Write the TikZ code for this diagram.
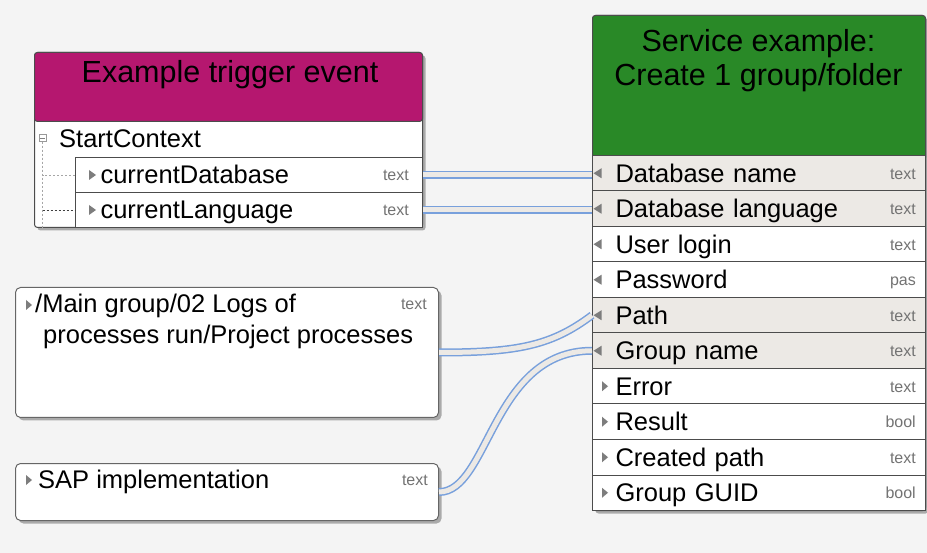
\documentclass[tikz,border=0pt]{standalone}
\usepackage{fontspec}
\setmainfont{Liberation Sans}
\usetikzlibrary{positioning, shadows}

\definecolor{bgcol}{RGB}{244,244,244}
\definecolor{trigmag}{RGB}{181,23,111}
\definecolor{svcgreen}{RGB}{41,137,39}
\definecolor{rowhl}{RGB}{236,233,229}
\definecolor{linkblue}{RGB}{120,160,220}
\definecolor{linkfill}{RGB}{236,233,229}
\definecolor{markgray}{RGB}{125,125,125}
\definecolor{typegray}{RGB}{115,115,115}

\begin{document}
\begin{tikzpicture}[x=1pt, y=-1pt,
        boxframe/.style={rectangle, draw=black!70, line width=1pt, fill=white, rounded corners=3pt, anchor=north west, inner sep=0pt,
            drop shadow={shadow xshift=3pt, shadow yshift=-3pt, fill=black, opacity=0.3}},
        headbox/.style={rectangle, draw=black!70, line width=1pt, rounded corners=3pt, anchor=north west, inner sep=0pt},
        headtitle/.style={font=\fontsize{30.5}{34}\selectfont, align=center, inner sep=0pt},
        fieldrow/.style={rectangle, draw=black!70, line width=1pt, fill=white, anchor=north west, inner ysep=0pt,
            align=left, text height=18pt, text depth=0pt, font=\fontsize{25.5}{30}\selectfont},
        srow/.style={fieldrow, inner xsep=23pt, text width=287pt, minimum width=333pt, minimum height=35.5pt},
        trow/.style={fieldrow, inner xsep=25pt, text width=297pt, minimum width=347pt, minimum height=35pt},
        item/.style={font=\fontsize{25.5}{31}\selectfont, inner sep=0pt},
        vtype/.style={font=\fontsize{16}{18}\selectfont, text=typegray, inner sep=0pt, text height=12pt, text depth=0pt},
        valbox/.style={rectangle, rounded corners=5pt, draw=black!60, line width=1pt, fill=white, anchor=north west, inner sep=0pt,
            drop shadow={shadow xshift=3pt, shadow yshift=-3pt, fill=black, opacity=0.3}},
        collapse/.style={rectangle, draw=black!40, fill=white, minimum size=7pt, inner sep=0pt},
        treeline/.style={dash pattern=on 2pt off 2pt, line width=0.8pt},
        conn/.style={draw=linkblue, line width=1.5pt, double=linkfill, double distance=5pt}
    ]
        % Background
        \fill[bgcol] (0,0) rectangle (927,553);
        \useasboundingbox (0,0) rectangle (927,553);

        % Trigger event
        \node[boxframe, minimum width=388pt, minimum height=175pt] (trig) at (34,52) {};
        \node[headbox, fill=trigmag, minimum width=388pt, minimum height=69pt] (trighead) at (34,52) {};
        \node[headtitle, anchor=base] (trigtitle) at (230,83) {Example trigger event};
        \node[collapse] (ctxbox) at (42.5,138) {};
        \draw[black!50] ([xshift=1.5pt]ctxbox.west) -- ([xshift=-1.5pt]ctxbox.east);
        \node[item, anchor=base west] (ctx) at (59,148) {StartContext};
        \node[trow] (curdb) at (75,157) {currentDatabase};
        \node[trow] (curlang) at (75,192) {currentLanguage};
        \node[vtype, left=14pt of curdb.east] (curdbtype) {text};
        \node[vtype, left=14pt of curlang.east] (curlangtype) {text};
        \draw[treeline, black!35] (ctxbox.south) -- (ctxbox.south |- trig.south);
        \draw[treeline, black!35] (ctxbox.south) |- (curdb.west);
        \draw[treeline, black!75] (ctxbox.south |- curlang.west) -- (curlang.west);
        \foreach \r in {curdb, curlang}
            \fill[markgray] ([xshift=14pt, yshift=5pt]\r.west) -- ++(0,10) -- ++(7,-5) -- cycle;

        % Service
        \node[boxframe, minimum width=333pt, minimum height=495pt] (svc) at (592,15) {};
        \node[headbox, fill=svcgreen, minimum width=333pt, minimum height=145pt] (svchead) at (592,15) {};
        \node[headtitle, anchor=north] (svctitle) at (758.5,29.5) {Service example:\\Create 1 group/folder};
        \node[srow, fill=rowhl] (dbname) at (592,155) {Database name};
        \node[srow, fill=rowhl] (dblang) at (592,190.5) {Database language};
        \node[srow] (login) at (592,226) {User login};
        \node[srow] (passwd) at (592,261.5) {Password};
        \node[srow, fill=rowhl] (pathin) at (592,297) {Path};
        \node[srow, fill=rowhl] (grpname) at (592,332.5) {Group name};
        \node[srow] (errout) at (592,368) {Error};
        \node[srow] (resout) at (592,403.5) {Result};
        \node[srow] (cpathout) at (592,439) {Created path};
        \node[srow] (guidout) at (592,474.5) {Group GUID};
        \node[vtype, left=10pt of dbname.east] (dbnametype) {text};
        \node[vtype, left=10pt of dblang.east] (dblangtype) {text};
        \node[vtype, left=10pt of login.east] (logintype) {text};
        \node[vtype, left=10pt of passwd.east] (passwdtype) {pas};
        \node[vtype, left=10pt of pathin.east] (pathintype) {text};
        \node[vtype, left=10pt of grpname.east] (grpnametype) {text};
        \node[vtype, left=10pt of errout.east] (errouttype) {text};
        \node[vtype, left=10pt of resout.east] (resouttype) {bool};
        \node[vtype, left=10pt of cpathout.east] (cpathouttype) {text};
        \node[vtype, left=10pt of guidout.east] (guidouttype) {bool};

        % Values
        \node[valbox, minimum width=423pt, minimum height=130pt] (pathval) at (15,287) {};
        \node[item, anchor=north west, align=left] (pathtxt) at (35,293.5) {/Main group/02 Logs of\\\hspace*{8pt}processes run/Project processes};
        \node[vtype, anchor=base east] (pathvaltype) at (427,310) {text};
        \node[valbox, minimum width=423pt, minimum height=57pt] (sapval) at (15,463) {};
        \node[item, anchor=base west] (saptxt) at (38,488) {SAP implementation};
        \node[vtype, anchor=base east] (sapvaltype) at (428,485) {text};
        \fill[markgray] ([xshift=11pt, yshift=-13pt]pathval.north west) -- ++(0,10) -- ++(6,-5) -- cycle;
        \fill[markgray] ([xshift=11pt, yshift=-12pt]sapval.north west) -- ++(0,10) -- ++(6,-5) -- cycle;

        % Connections
        \draw[conn] (curdb.east) -- (curdb.east -| dbname.west);
        \draw[conn] (curlang.east) -- (curlang.east -| dblang.west);
        \draw[conn] (pathval.east) .. controls +(80,0) and +(-40,30) .. (pathin.west);
        \draw[conn] (sapval.east) .. controls +(50,0) and +(-100,0) .. (grpname.west);

        % Port marks
        \foreach \r in {dbname, dblang, login, passwd, pathin, grpname}
            \fill[markgray] ([xshift=1.5pt]\r.west) -- ++(8,-5) -- ++(0,10) -- cycle;
        \foreach \r in {errout, resout, cpathout, guidout}
            \fill[markgray] ([xshift=10pt, yshift=5pt]\r.west) -- ++(0,10) -- ++(6,-5) -- cycle;
    \end{tikzpicture}
\end{document}
